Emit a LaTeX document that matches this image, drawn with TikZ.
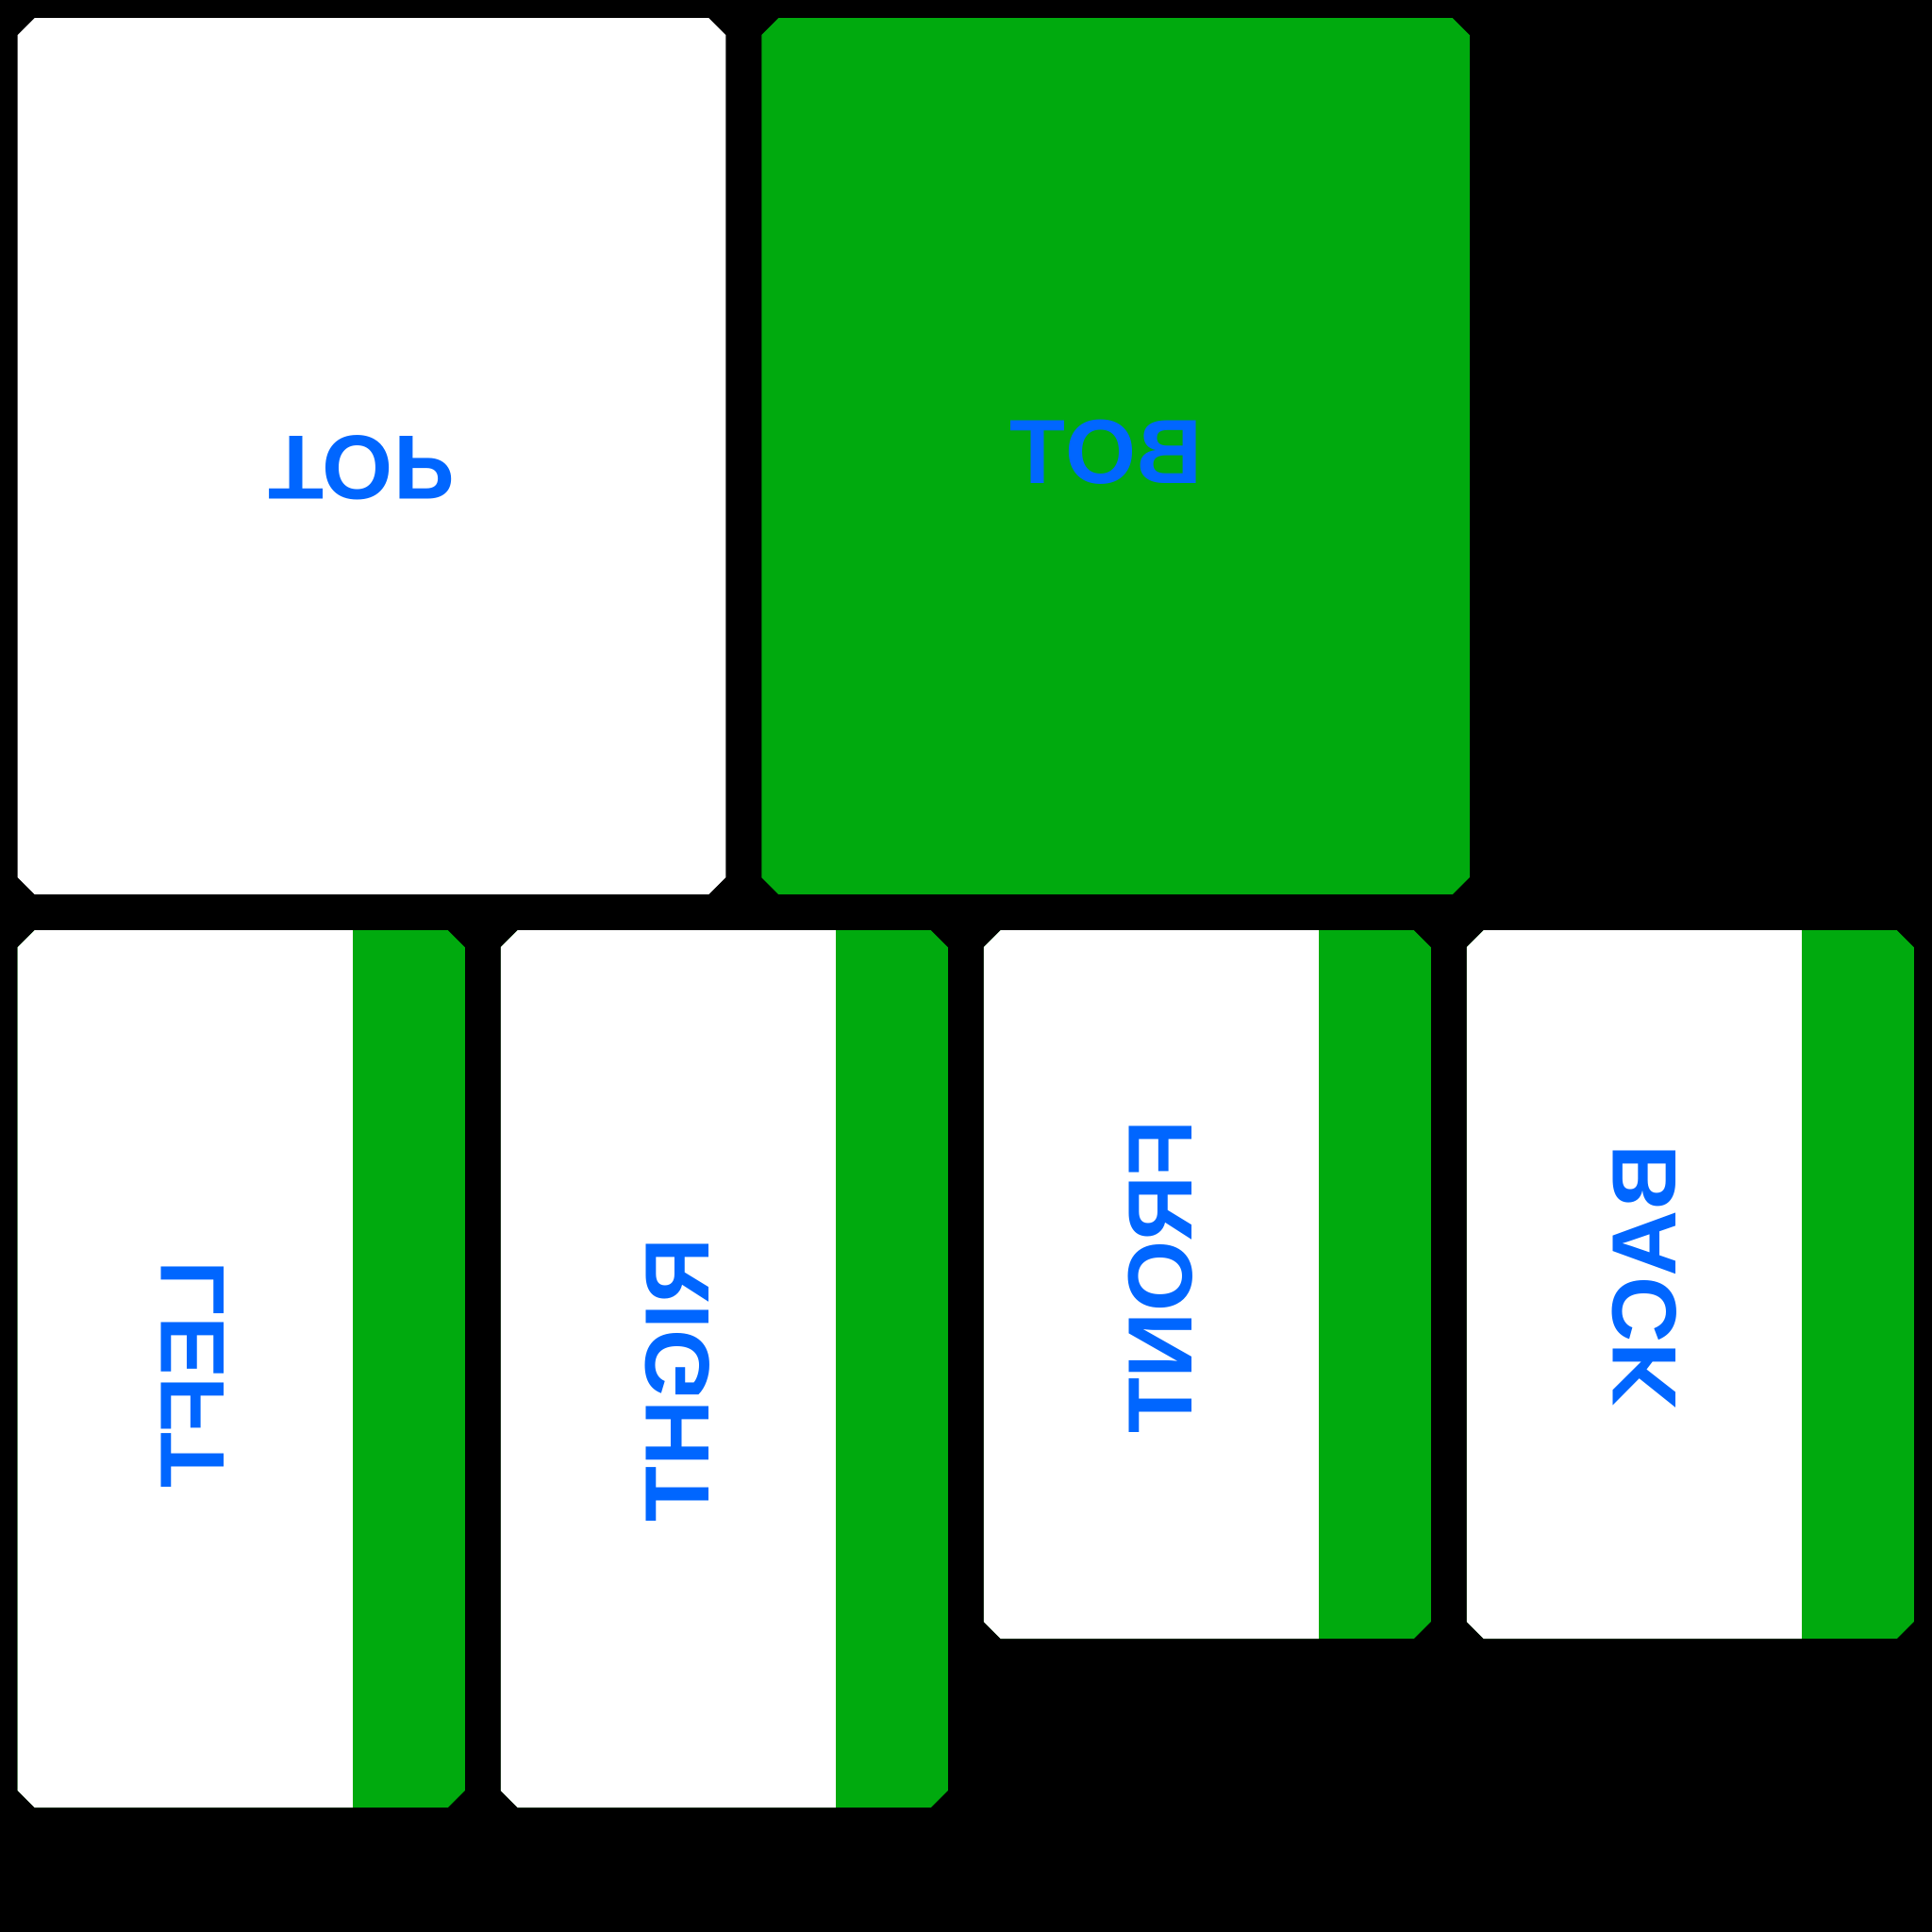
\documentclass[tikz,border=0pt]{standalone}
\usepackage{fontspec}
\newfontfamily\labelfont{Liberation Sans Bold}
\usetikzlibrary{positioning}
\definecolor{facegreen}{RGB}{0,170,14}
\definecolor{labelblue}{RGB}{0,102,255}
\newcommand{\chamf}{0.18cm}
% corners of the panel being filled
\newcommand{\facecorners}{%
  \coordinate (pnw) at (path picture bounding box.north west);
  \coordinate (pne) at (path picture bounding box.north east);
  \coordinate (pse) at (path picture bounding box.south east);
  \coordinate (psw) at (path picture bounding box.south west);}
% whole chamfered panel in colour #1
\newcommand{\facefill}[1]{%
  \facecorners
  \fill[#1] ([xshift=\chamf]pnw) -- ([xshift=-\chamf]pne) -- ([yshift=-\chamf]pne) -- ([yshift=\chamf]pse) -- ([xshift=-\chamf]pse) -- ([xshift=\chamf]psw) -- ([yshift=\chamf]psw) -- ([yshift=-\chamf]pnw) -- cycle;}
% chamfered panel, white with a green strip of width #1 on the right
\newcommand{\stripfill}[1]{%
  \facefill{facegreen}
  \fill[white] ([xshift=\chamf]pnw) -- ([xshift=-#1]pne) -- ([xshift=-#1]pse) -- ([xshift=\chamf]psw) -- ([yshift=\chamf]psw) -- ([yshift=-\chamf]pnw) -- cycle;}
\tikzstyle{face} = [rectangle, inner sep=0pt, outer sep=0pt, draw=none]
\tikzstyle{topface} = [face, minimum width=7.505cm, minimum height=9.29cm, path picture={\facefill{white}}]
\tikzstyle{botface} = [topface, path picture={\facefill{facegreen}}]
\tikzstyle{tallside} = [face, minimum width=4.74cm, minimum height=9.30cm, path picture={\stripfill{1.19cm}}]
\tikzstyle{shortside} = [tallside, minimum height=7.51cm]
\tikzstyle{facelabel} = [text=labelblue, font=\labelfont\fontsize{27.5}{30}\selectfont, inner sep=0pt, text height=19.7pt, text depth=0pt]
\tikzstyle{sidelabel} = [facelabel, cm={0,-1,-1,0,(0,0)}]

\begin{document}
\begin{tikzpicture}[node distance=0.38cm]
\fill[black] (0,0) rectangle (20.48,-20.48);
% Row 1
\node (top) [topface] at (3.94,-4.835) {};
\node (bot) [botface, right=of top] {};
% Row 2
\node (left) [tallside, below=of top, xshift=-1.3825cm] {};
\node (right) [tallside, right=of left] {};
\node (front) [shortside, right=of right, yshift=0.895cm] {};
\node (back) [shortside, right=of front] {};

% Labels
\node (toplabel) [facelabel, yscale=-1] at ([xshift=-0.11cm, yshift=-0.14cm]top.center) {TOP};
\node (botlabel) [facelabel, xscale=-1] at ([xshift=-0.10cm, yshift=0.055cm]bot.center) {BOT};
\node (leftlabel) [sidelabel] at ([xshift=-0.53cm, yshift=-0.06cm]left.center) {LEFT};
\node (rightlabel) [sidelabel] at ([xshift=-0.51cm, yshift=-0.12cm]right.center) {RIGHT};
\node (frontlabel) [sidelabel] at ([xshift=-0.51cm, yshift=0.08cm]front.center) {FRONT};
\node (backlabel) [sidelabel] at ([xshift=-0.50cm, yshift=0.08cm]back.center) {BACK};
\end{tikzpicture}
\end{document}
